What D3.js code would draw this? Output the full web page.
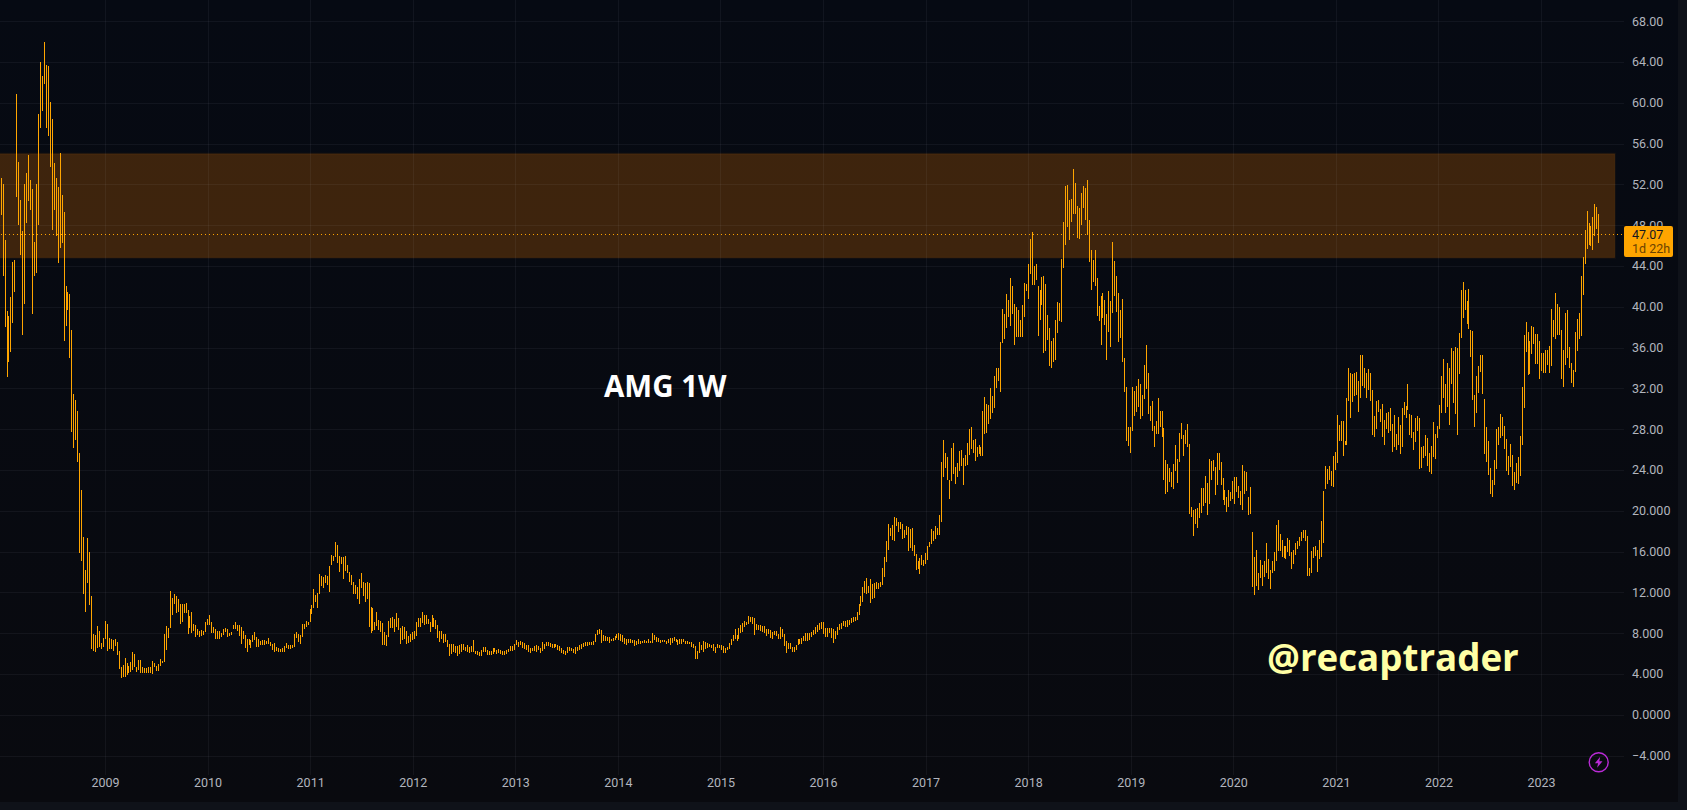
<!DOCTYPE html>
<html><head><meta charset="utf-8"><title>AMG 1W</title>
<script src="https://cdn.jsdelivr.net/npm/d3@7"></script>
<style>html,body{margin:0;padding:0;background:#0f1219;overflow:hidden}svg{display:block}</style>
</head><body><div id="chart"></div>
<script>
// Weekly highs and lows, section by section.
const high2008 = [52.6,52.0,46.5,39.6,39.1,41.0,44.4,44.6,60.9,54.2,50.5,47.4,52.0,53.1,54.9,52.4,51.5,46.3,52.0,58.9,64.0,62.6,66.0,63.7,63.6,60.1,58.4,54.1,52.6,51.7,55.1,51.0,49.3,42.0,41.4,41.2,37.7,31.4,30.9,29.8,25.7,22.0,17.4,14.2,17.3,16.0,11.6,7.9,7.8,8.7,8.2,7.0,7.5,9.2,8.9,7.5,7.4,7.3,7.4,7.1,6.2];
const low2008 = [49.0,43.0,38.0,33.1,34.6,35.6,38.4,41.4,50.8,48.0,45.1,37.2,40.3,48.2,50.4,49.5,39.3,43.0,43.3,48.0,57.5,59.2,61.8,57.5,56.7,53.7,47.5,49.5,46.9,44.3,45.8,46.2,36.6,38.1,39.7,35.0,27.7,26.1,26.9,24.8,15.9,15.1,11.8,10.1,12.9,10.8,6.4,6.2,6.1,6.5,6.6,6.4,6.6,7.4,6.2,6.4,6.4,6.2,6.7,5.9,4.5];
const high2009 = [4.68,4.84,5.56,5.04,4.78,5.14,6.15,5.92,4.65,5.36,5.36,4.65,4.55,4.58,4.65,4.65,5.27,5.07,4.78,5.0,5.43,5.3,7.9,8.67,8.5,12.13,11.41,11.84,11.64,11.35,10.85,10.85,10.85,10.95,10.27,9.68,10.07,8.89,8.8,8.4,8.17,8.3,8.2,9.09,9.4,9.78,9.09,8.6,8.4,8.2,8.2,8.0,8.4,8.5,8.4,8.0,8.1,8.8,9.09,8.8,8.8,8.6,8.2,7.82,7.42,7.42,7.33,7.82,8.1,7.62,7.42,7.23,7.33,7.33,7.23,7.52,7.13,6.93,7.03,6.64,6.54,6.44,6.54,6.74,7.03,6.83,6.83,6.83,7.9,8.1,7.9,7.82,8.89,8.89,9.19,9.09,10.36,10.76,12.33,11.74,11.93,13.8,13.6,13.5,13.7,13.6,14.58,15.66,15.56,16.93,16.64,15.56,15.46,15.46,15.56,14.68,14.0,13.7,13.0,12.72,12.52,13.3];
const low2009 = [3.63,3.67,3.73,3.89,4.06,4.22,4.38,4.65,4.19,4.38,4.06,4.12,4.12,4.12,4.12,4.06,4.02,4.68,4.32,4.32,4.81,5.04,5.2,6.35,7.52,8.5,9.78,10.85,9.94,10.1,8.93,9.09,10.0,10.0,7.9,8.5,8.04,8.24,7.65,7.78,7.65,7.72,7.82,8.1,8.83,8.76,7.98,8.0,7.42,7.42,7.42,7.62,7.82,8.1,7.62,7.72,7.82,8.37,8.4,8.2,7.72,6.93,7.42,6.54,6.15,6.83,6.54,7.13,7.33,6.64,6.64,6.83,6.83,6.83,6.93,6.93,6.74,6.35,6.15,6.25,6.15,6.15,6.15,6.15,6.54,6.44,6.44,6.54,6.64,7.52,7.13,6.93,7.62,8.4,8.6,8.8,9.09,9.87,10.46,11.05,10.46,11.84,12.62,12.42,12.91,12.72,12.03,14.68,15.07,15.46,14.87,14.0,14.78,13.3,14.09,13.9,13.0,12.72,11.84,11.84,11.35,10.85];
const high2011 = [13.9,13.0,12.9,13.0,12.9,10.53,10.47,9.09,10.07,9.29,9.19,8.99,8.11,7.82,9.19,9.48,9.58,9.39,9.98,9.48,8.5,8.7,8.6,8.21,7.72,7.92,8.11,8.21,9.09,9.48,9.48,10.07,9.78,9.78,9.39,9.09,9.78,9.48,9.29,8.8,8.21,8.21,7.92,7.92,7.33,6.94,6.94,6.94,6.74,6.74,6.84,6.94,6.94,6.64,6.84,6.64,6.74,7.33,6.25,6.25,6.15,6.35,6.64,6.64,6.35,6.25,6.25,6.54,6.54,6.35,6.45,6.35,6.25,6.25,6.35,6.45,6.74,6.74,6.94,7.33,7.13,7.23,7.13,7.03,6.84,6.84,6.54,6.54,6.74,6.84,6.74,6.54,7.13,6.94,7.13,7.13,7.03,6.94,6.94,6.94,6.84,6.74,6.54,6.35,6.25,6.64,6.64,6.54,6.45,6.64,6.64,6.84,6.94,7.03,7.13,7.13,7.13,7.13,7.23,7.92,8.31,8.41,8.31,7.82,7.72,7.62,7.62,7.43,7.52,7.72,7.92,8.01,7.92,7.82,7.52,7.43,7.43,7.43,7.33,7.33,7.23,7.43,7.23,7.23,7.33,7.23,7.43,7.23,8.01,7.82,7.62,7.52];
const low2011 = [12.4,11.65,11.05,11.35,8.64,7.98,8.18,8.31,8.7,8.31,8.11,6.84,6.84,6.74,7.62,8.5,8.5,8.11,8.6,8.31,6.94,7.33,7.43,6.94,7.03,7.13,7.33,7.43,7.72,8.6,8.6,8.99,8.8,8.9,8.9,8.11,8.6,8.6,8.41,7.52,7.13,7.43,7.03,7.13,6.64,5.76,5.96,6.15,6.05,5.76,5.96,6.15,6.35,6.25,6.15,6.05,6.15,6.15,5.96,5.86,5.76,5.76,6.15,6.15,5.86,5.86,5.86,5.96,6.1,5.96,6.05,5.96,5.86,5.86,5.96,6.15,6.25,6.25,6.35,6.84,6.64,6.84,6.54,6.45,6.35,6.15,6.05,6.25,6.25,6.15,6.35,6.05,6.25,6.45,6.74,6.74,6.64,6.54,6.54,6.64,6.35,6.25,6.05,5.96,5.86,6.05,6.25,6.25,6.05,5.96,6.25,6.35,6.45,6.64,6.74,6.74,6.84,6.84,6.84,7.13,7.82,7.92,7.03,7.23,7.23,7.23,7.03,7.23,7.23,7.33,7.52,7.33,7.23,7.13,6.94,6.84,7.03,7.03,7.03,6.74,6.84,6.94,6.94,7.03,7.03,7.03,7.03,7.03,7.03,7.33,7.13,7.13];
const high2014 = [7.33,7.33,7.33,7.23,7.43,7.49,7.52,7.62,7.43,7.33,7.43,7.43,7.43,7.23,7.23,7.13,7.13,6.94,6.74,6.25,7.13,6.84,7.23,7.13,7.03,6.94,6.84,6.94,6.64,6.94,6.84,6.84,6.74,6.54,6.64,7.03,7.43,7.82,8.41,7.82,8.5,8.8,8.99,9.19,9.09,9.68,9.58,9.58,9.48,8.9,8.8,8.8,8.7,8.7,8.41,8.41,8.31,8.11,8.21,8.21,7.92,8.6,8.41,7.92,7.23,7.03,7.03,6.64,6.64,6.84,7.43,7.43,7.52,7.72,8.01,8.01,8.01,8.11,8.31,8.6,8.8,8.99,9.09,9.09,8.5,8.5,8.5,8.5,8.41,8.21,8.6,8.9,8.99,9.19,9.19,9.29,9.29,9.48,9.58,9.58,10.07,10.86,11.64];
const low2014 = [7.07,7.13,7.13,6.97,7.0,6.87,7.0,7.23,7.13,6.84,6.94,6.94,7.13,6.94,6.94,6.94,6.64,6.54,5.47,5.47,6.05,6.35,6.15,6.45,6.54,6.64,6.54,6.25,6.05,6.54,6.54,6.35,6.05,6.05,6.35,6.45,6.84,7.23,7.43,7.23,7.43,8.01,8.11,8.6,8.8,8.9,9.09,8.9,7.82,8.31,8.31,8.21,8.11,8.01,7.72,7.92,7.52,7.43,7.82,7.72,7.43,7.43,7.62,6.74,6.05,6.45,6.45,6.15,6.15,6.35,6.84,6.94,6.94,7.23,7.23,7.23,7.33,7.62,7.82,7.92,8.11,8.31,8.41,7.92,7.62,7.62,8.01,7.52,7.03,7.43,7.82,8.31,8.41,8.7,8.6,8.6,8.8,8.99,9.09,9.19,9.29,9.78,10.66];
const high2016 = [12.52,13.11,13.4,12.62,13.31,12.82,12.91,13.01,12.91,13.01,14.38,15.46,17.03,18.7,18.31,18.6,19.38,19.29,18.89,18.89,18.7,18.11,18.5,18.4,18.21,18.31,16.64,15.76,15.07,15.36,15.66,15.17,15.85,16.54,16.93,18.21,18.01,18.5,18.31,19.58,24.78,26.93,25.66,25.27,23.01,26.15,26.64,24.29,24.68,25.85,25.95,25.17,25.46,26.64,28.01,28.21,26.93,27.03,26.25,26.44,26.25,29.78,31.15,30.46,30.36,32.03,31.25,33.21,33.99,33.99];
const low2016 = [11.05,11.93,11.83,11.93,10.95,11.34,11.44,12.32,12.32,12.52,12.72,13.5,14.97,16.15,17.52,17.13,17.03,18.5,17.91,18.21,17.23,17.32,17.62,16.05,16.35,16.05,15.56,14.19,14.29,13.79,14.68,14.58,14.78,15.17,16.44,16.74,17.03,17.23,17.62,17.62,18.89,23.31,24.19,23.01,21.15,22.91,23.6,22.62,23.31,23.89,24.38,22.52,24.38,24.48,25.46,26.05,25.66,24.87,25.27,25.56,25.36,25.36,27.52,27.62,28.5,28.99,29.58,30.07,32.03,32.72];
const high2018 = [36.54,39.77,39.28,41.24,40.65,42.81,42.03,40.26,39.97,39.67,38.69,40.16,42.32,42.22,44.18,46.63,47.32,43.99,44.18,42.03,41.63,42.91,43.01,42.22,39.18,37.91,36.64,36.93,38.69,40.46,40.36,44.67,48.3,51.83,51.93,50.46,50.56,53.5,52.13,49.87,49.67,51.15,51.83,51.63,52.42,48.5,45.56,44.58,45.56,42.81,40.07,41.05,41.34,40.65,39.28,41.54,40.56,46.34,44.48,43.01,41.34,39.67,40.75];
const low2018 = [31.64,36.44,36.83,37.91,38.99,38.11,39.28,36.24,37.03,37.03,37.03,37.03,38.99,41.54,40.75,43.2,42.12,42.12,42.62,37.13,38.69,40.16,35.46,35.65,36.73,34.19,33.99,34.58,34.78,37.42,38.6,38.5,43.79,46.05,47.81,46.54,48.3,49.09,49.09,46.73,46.63,48.01,49.67,48.5,47.03,44.38,41.63,42.42,42.03,39.09,38.6,36.24,38.89,38.2,34.8,37.52,36.05,39.38,41.05,39.48,36.54,36.93,34.6];
const high2019 = [34.97,32.13,28.21,28.21,32.13,31.74,32.23,32.91,32.42,31.34,34.28,36.25,33.5,30.27,30.76,28.3,28.79,31.05,29.77,29.77,28.11,24.97,24.58,24.19,23.79,24.58,26.44,25.07,27.62,28.6,27.42,27.91,28.5,26.54,20.36,20.07,20.17,20.27,20.76,22.23,22.23,23.4,22.72,25.07,24.87,24.97,24.28,25.66,25.66,24.77,23.21,22.03,21.34,22.03,21.83,22.91,23.3,23.3,22.42,21.93,24.48,23.89,23.79,21.34,22.32];
const low2019 = [31.64,26.83,26.34,25.66,27.81,29.28,29.68,30.17,28.99,29.28,30.95,31.93,29.48,28.79,27.81,26.25,27.52,27.52,28.21,27.23,23.01,21.64,21.83,22.81,22.32,22.13,23.89,22.72,24.77,27.03,25.36,26.54,26.25,19.68,19.38,17.52,18.7,18.3,19.28,19.77,20.46,20.76,19.58,20.66,23.01,23.89,21.54,22.52,23.99,22.52,21.05,20.56,19.87,20.36,20.95,21.15,20.66,21.83,21.25,20.56,20.07,21.64,21.93,19.58,19.68];
const high2020 = [17.91,15.46,16.15,13.89,15.17,14.68,15.07,16.83,15.26,14.19,15.07,15.95,18.6,19.09,17.72,17.13,16.54,16.54,17.32,17.13,15.95,16.15,16.83,17.03,17.42,17.91,18.11,18.11,17.52,14.38,16.05,16.44,16.54,16.15,17.13,19.0];
const low2020 = [12.52,11.74,12.62,12.23,13.4,12.62,13.5,13.89,13.31,12.32,13.89,14.09,15.07,16.05,16.05,15.46,15.36,15.26,15.95,15.56,14.28,14.77,15.66,16.25,16.54,17.03,17.32,17.03,13.6,13.6,13.89,15.36,15.56,13.99,15.26,15.5];
const high2021 = [21.93,24.38,24.09,24.38,23.89,25.36,25.75,29.38,28.4,28.79,28.79,26.83,31.05,33.99,33.5,33.4,33.5,33.6,32.72,35.26,35.26,33.99,33.5,33.89,33.5,31.83,29.28,30.75,30.85,29.97,30.46,28.89,29.58,29.68,30.07,28.5,29.38,27.52,29.19,28.4,30.07,30.66,30.26,32.42,29.48,29.38,27.72,29.09,29.28,29.09,26.25,26.34,27.42,27.13,25.66,26.34,28.7,27.52,28.3,30.36,33.21,34.87,32.42,34.48,33.99,35.95,35.69,36.05,35.95,37.42,41.64,42.42,41.64,40.56,41.74,37.72,37.62,31.34,33.21,34.19,35.26,35.26];
const low2021 = [16.8,22.13,22.62,23.01,22.42,22.32,23.99,24.68,26.83,26.83,25.36,26.44,26.44,30.75,29.09,30.66,31.25,31.34,29.68,31.05,32.23,32.03,31.05,31.83,30.75,27.42,27.23,28.01,29.68,28.7,27.23,26.44,28.01,27.62,27.81,25.75,26.25,25.95,26.44,25.56,26.25,29.38,29.09,29.87,27.42,27.13,25.95,26.74,27.81,24.09,24.19,25.17,25.36,24.38,23.79,23.6,25.26,25.07,27.13,28.01,29.58,31.05,29.58,30.17,28.4,32.42,30.56,29.48,27.42,33.4,36.93,38.89,39.68,38.3,37.81,35.07,30.85,28.21,29.58,31.54,33.6,31.44];
const high2022 = [30.95,28.21,26.83,24.19,23.01,24.97,28.01,28.21,29.48,29.19,28.3,27.03,25.36,26.54,25.46,23.79,24.68,25.26,27.32,32.13,37.23,38.5,37.52,36.64,38.11,38.01,37.32,37.32,36.64,35.46,35.46,35.76,35.76,36.15,39.77,38.7,41.34,40.26,39.97,37.72,35.76,39.38,39.68,36.05,34.48,33.79,37.52,38.79,39.38,43.01,44.87,47.52,49.4,48.2,47.9,48.8,50.07,49.8,49.1];
const low2022 = [25.56,24.77,23.5,21.64,21.34,22.52,24.09,26.44,27.13,27.32,26.05,23.89,23.5,24.28,22.42,22.03,22.72,22.62,23.4,26.44,30.07,35.56,33.3,33.4,35.36,36.34,34.38,34.38,32.91,33.7,33.5,33.5,34.28,33.5,34.19,37.03,36.83,37.23,37.23,32.91,32.13,34.28,34.97,33.99,32.52,32.13,33.6,35.66,36.83,37.13,41.15,44.19,45.65,46.05,46.0,45.55,46.93,47.6,46.25];

const highs = [].concat(high2008, high2009, high2011, high2014, high2016, high2018, high2019, high2020, high2021, high2022);
const lows  = [].concat(low2008, low2009, low2011, low2014, low2016, low2018, low2019, low2020, low2021, low2022);

const yearTicks = [2009,2010,2011,2012,2013,2014,2015,2016,2017,2018,2019,2020,2021,2022,2023];
const priceTicks = [68,64,60,56,52,48,44,40,36,32,28,24,20,16,12,8,4,0,-4];
const priceLabels = ["68.00","64.00","60.00","56.00","52.00","48.00","44.00","40.00","36.00","32.00","28.00","24.00","20.000","16.000","12.000","8.000","4.000","0.0000","\u22124.000"];
const firstBarYear = 2007.98703, weekInYears = 0.0191834;
const zoneTop = 55, zoneBottom = 44.8, zoneEndYear = 2023.72, lastPrice = 47.07;

const W = 1687, H = 810, plotR = 1624, plotB = 775, outerR = 1678, outerB = 802;
const x = d3.scaleLinear().domain([2009, 2023]).range([105, 1541]);
const y = d3.scaleLinear().domain([0, 52]).range([714.7, 184.3]);
const barX = i => Math.floor(x(firstBarYear + i * weekInYears));

const svg = d3.select("#chart").append("svg").attr("width", W).attr("height", H);
const defs = svg.append("defs");
const g = defs.append("linearGradient").attr("id","bg").attr("x1",0).attr("x2",0).attr("y1",0).attr("y2",1);
g.append("stop").attr("offset",0).attr("stop-color","#060a13");
g.append("stop").attr("offset",1).attr("stop-color","#090a0f");

svg.append("rect").attr("width",W).attr("height",H).attr("fill","#0f1219");
svg.append("rect").attr("width",outerR).attr("height",outerB).attr("fill","url(#bg)");

// supply/demand zone
svg.append("rect").attr("x",-4).attr("width",x(zoneEndYear)+4)
  .attr("y",y(zoneTop)).attr("height",y(zoneBottom)-y(zoneTop))
  .attr("fill","rgba(255,130,0,0.225)").attr("stroke","rgba(255,130,0,0.06)").attr("stroke-width",2);

// grid
const gridCol = "rgba(235,240,255,0.05)";
svg.append("g").selectAll("line").data(priceTicks).join("line")
  .attr("x1",0).attr("x2",plotR).attr("y1",d=>Math.round(y(d))+.5).attr("y2",d=>Math.round(y(d))+.5)
  .attr("stroke",gridCol);
svg.append("g").selectAll("line").data(yearTicks).join("line")
  .attr("x1",d=>Math.round(x(d))+.5).attr("x2",d=>Math.round(x(d))+.5).attr("y1",0).attr("y2",plotB)
  .attr("stroke",gridCol);

// HL bars
svg.append("g").attr("fill","#FFA500").attr("shape-rendering","crispEdges")
  .selectAll("rect").data(highs).join("rect")
  .attr("x",(d,i)=>barX(i)).attr("width",1)
  .attr("y",d=>Math.round(y(d)))
  .attr("height",(d,i)=>Math.max(1,Math.round(y(lows[i]))-Math.round(y(d))));

// price line
svg.append("line").attr("x1",1).attr("x2",plotR)
  .attr("y1",Math.floor(y(lastPrice))+.5).attr("y2",Math.floor(y(lastPrice))+.5)
  .attr("stroke","#FFA500").attr("stroke-dasharray","1 3");

// axes
const font = "Roboto, sans-serif";
const yAxis = d3.axisRight(y).tickValues(priceTicks).tickSize(0).tickPadding(0)
  .tickFormat((d,i)=>priceLabels[i]);
svg.append("g").attr("transform",`translate(1632,0)`).call(yAxis)
  .call(s=>s.select(".domain").remove())
  .call(s=>s.selectAll("text").attr("font-family",font).attr("font-size",12.5).attr("fill","#b2b5be").attr("x",0));
const xAxis = d3.axisBottom(x).tickValues(yearTicks).tickSize(0).tickPadding(0).tickFormat(d3.format("d"));
svg.append("g").attr("transform",`translate(0,778)`).call(xAxis)
  .call(s=>s.select(".domain").remove())
  .call(s=>s.selectAll("text").attr("font-family",font).attr("font-size",12.5).attr("fill","#b2b5be"));

// last-price tag
svg.append("rect").attr("x",1624).attr("y",226).attr("width",49).attr("height",31).attr("rx",2).attr("fill","#FFA500");
svg.append("text").attr("x",1632).attr("y",239).text(lastPrice.toFixed(2))
  .attr("font-family",font).attr("font-size",12.5).attr("fill","#131722");
svg.append("text").attr("x",1632).attr("y",253).text("1d 22h")
  .attr("font-family",font).attr("font-size",12.5).attr("fill","#6b4200");

// annotations
svg.append("text").attr("x",604).attr("y",397).text("AMG 1W")
  .attr("font-family","'Open Sans', sans-serif").attr("font-weight",700).attr("font-size",29.5).attr("fill","#ffffff");
svg.append("text").attr("x",1267).attr("y",671).text("@recaptrader")
  .attr("font-family","'Open Sans', sans-serif").attr("font-weight",700).attr("font-size",36.7).attr("fill","#ffffa5");

// lightning badge
const badge = svg.append("g").attr("transform","translate(1598.7,762.3)");
badge.append("circle").attr("r",9.5).attr("fill","none").attr("stroke","#b92ad6").attr("stroke-width",1.4);
badge.append("path").attr("d","M1.5,-5.5 L-3.8,1 L-0.6,1 L-1.6,5.5 L3.8,-1 L0.6,-1 Z").attr("fill","#b92ad6");
</script></body></html>
